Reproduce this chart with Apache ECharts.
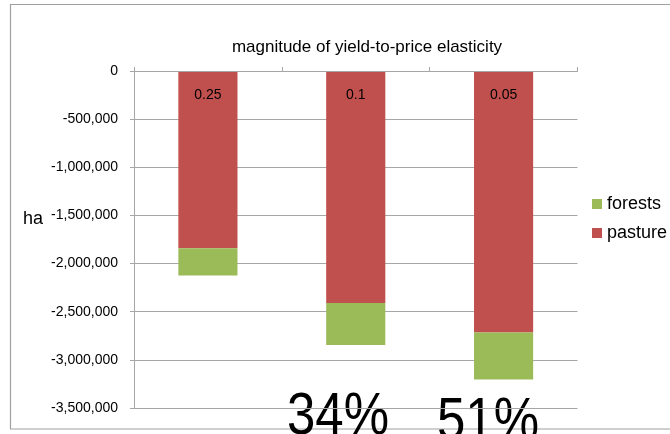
<!DOCTYPE html>
<html>
<head>
<meta charset="utf-8">
<title>magnitude of yield-to-price elasticity</title>
<script src="https://cdn.jsdelivr.net/npm/echarts@6/dist/echarts.min.js"></script>
<style>
  html, body { margin: 0; padding: 0; background: #ffffff; }
  #chart { width: 670px; height: 434px; }
</style>
</head>
<body>
<div id="chart"></div>
<script>
// Elasticity scenarios on the category axis
const categories = ['0.25', '0.1', '0.05'];
// Land-use change (ha) per scenario, stacked below zero
const pasture = [-1840000, -2410000, -2715000];
const forests = [-285000, -435000, -490000];
// Axis range and step for the value axis
const yMin = -3500000;
const yMax = 0;
const yStep = 500000;
// Increase notes shown below the second and third scenarios
const shareLabels = ['34%', '51%'];

const FONT = '"Liberation Sans", Arial, Helvetica, sans-serif';
const GRID_GREY = '#a6a6a6';

const chart = echarts.init(document.getElementById('chart'), null, { renderer: 'canvas' });

chart.setOption({
  animation: false,
  backgroundColor: '#ffffff',
  title: {
    text: 'magnitude of yield-to-price elasticity',
    left: 362,
    top: 34,
    textAlign: 'center',
    textStyle: { fontFamily: FONT, fontSize: 17, fontWeight: 'normal', color: '#000000' }
  },
  legend: {
    data: ['forests', 'pasture'],
    orient: 'vertical',
    left: 587,
    top: 190,
    itemWidth: 10,
    itemHeight: 10,
    itemGap: 11,
    icon: 'rect',
    selectedMode: false,
    textStyle: { fontFamily: FONT, fontSize: 18, lineHeight: 18, color: '#000000' }
  },
  grid: { left: 134, top: 71, width: 443.5, height: 337, containLabel: false },
  xAxis: {
    type: 'category',
    data: categories,
    position: 'top',
    z: 10,
    axisLine: { show: true, lineStyle: { color: GRID_GREY, width: 1 } },
    axisTick: { show: true, inside: false, length: 4, alignWithLabel: false, lineStyle: { color: GRID_GREY } },
    axisLabel: { inside: true, margin: 17, fontFamily: FONT, fontSize: 14, color: '#000000' }
  },
  yAxis: {
    type: 'value',
    min: yMin,
    max: yMax,
    interval: yStep,
    axisLine: { show: true, lineStyle: { color: GRID_GREY, width: 1 } },
    axisTick: { show: true, length: 4, lineStyle: { color: GRID_GREY } },
    splitLine: { show: true, lineStyle: { color: GRID_GREY, width: 1 } },
    axisLabel: {
      margin: 16,
      fontFamily: FONT,
      fontSize: 14,
      color: '#000000',
      formatter: v => v.toLocaleString('en-US')
    }
  },
  series: [
    {
      name: 'pasture',
      type: 'bar',
      stack: 'land',
      barWidth: '40%',
      data: pasture,
      itemStyle: { color: '#c0504d' }
    },
    {
      name: 'forests',
      type: 'bar',
      stack: 'land',
      barWidth: '40%',
      data: forests,
      itemStyle: { color: '#9bbb59' }
    }
  ],
  graphic: [
    {
      type: 'rect',
      silent: true,
      shape: { x: 10.5, y: 4.5, width: 700, height: 424.5 },
      style: { fill: 'none', stroke: '#a0a0a0', lineWidth: 1.2 }
    },
    {
      type: 'text',
      x: 23,
      y: 219,
      style: { text: 'ha', font: '18px ' + FONT, fill: '#000000', verticalAlign: 'middle', align: 'left' }
    },
    {
      type: 'text',
      x: 287,
      y: 389,
      scaleY: 1.15,
      style: { text: shareLabels[0], font: '51px ' + FONT, fill: '#000000', verticalAlign: 'top', align: 'left' }
    },
    {
      type: 'text',
      x: 437,
      y: 394,
      scaleY: 1.15,
      style: { text: shareLabels[1], font: '51px ' + FONT, fill: '#000000', verticalAlign: 'top', align: 'left' }
    }
  ]
});
</script>
</body>
</html>
